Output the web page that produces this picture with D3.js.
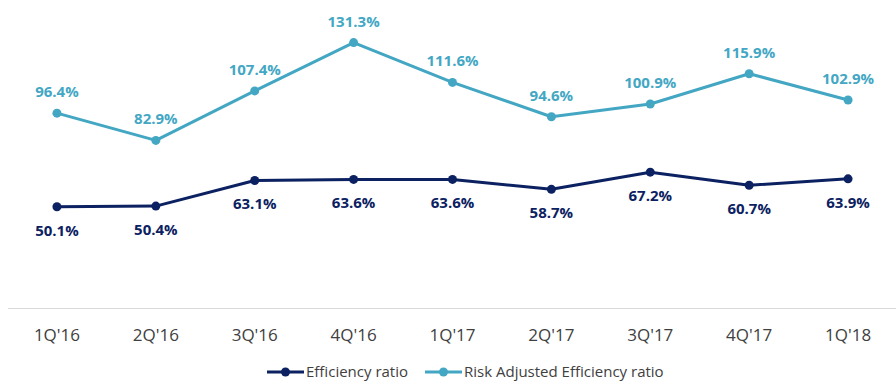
<!DOCTYPE html>
<html>
<head>
<meta charset="utf-8">
<script src="https://cdn.jsdelivr.net/npm/d3@7"></script>
<style>
  html, body { margin: 0; padding: 0; background: #fff; }
  svg { display: block; }
</style>
</head>
<body>
<svg id="chart" width="896" height="381"></svg>
<script>
// Quarterly efficiency figures (%)
const quarters = ["1Q'16", "2Q'16", "3Q'16", "4Q'16", "1Q'17", "2Q'17", "3Q'17", "4Q'17", "1Q'18"];
const efficiencyRatio = [50.1, 50.4, 63.1, 63.6, 63.6, 58.7, 67.2, 60.7, 63.9];
const riskAdjustedRatio = [96.4, 82.9, 107.4, 131.3, 111.6, 94.6, 100.9, 115.9, 102.9];
const seriesNames = ["Efficiency ratio", "Risk Adjusted Efficiency ratio"];

const DARK = "#0b2161";
const LIGHT = "#43a7c4";
const FONT = "'Open Sans', 'Segoe UI', sans-serif";

const svg = d3.select("#chart");

const x = d3.scaleBand().domain(quarters).range([7.5, 897.5]);
const y = d3.scaleLinear().domain([0, 140]).range([308, 25]);
const cx = d => x(d) + x.bandwidth() / 2;

// baseline axis
const axis = svg.append("g")
  .attr("transform", `translate(0,${y(0)})`)
  .call(d3.axisBottom(x).tickSize(0).tickPadding(21));
axis.select(".domain").attr("stroke", "#d9d9d9").attr("stroke-width", 1);
axis.selectAll("text")
  .attr("font-family", FONT)
  .attr("font-size", 17)
  .attr("fill", "#404040");

const series = [
  { name: seriesNames[1], values: riskAdjustedRatio, color: LIGHT, labelDy: -16 },
  { name: seriesNames[0], values: efficiencyRatio, color: DARK, labelDy: 29 }
];

const line = d3.line()
  .x((d, i) => cx(quarters[i]))
  .y(d => y(d));

series.forEach(s => {
  const g = svg.append("g");
  g.append("path")
    .attr("d", line(s.values))
    .attr("fill", "none")
    .attr("stroke", s.color)
    .attr("stroke-width", 3)
    .attr("stroke-linejoin", "round");
  g.selectAll("circle")
    .data(s.values)
    .join("circle")
    .attr("cx", (d, i) => cx(quarters[i]))
    .attr("cy", d => y(d))
    .attr("r", 4.5)
    .attr("fill", s.color);
  g.selectAll("text")
    .data(s.values)
    .join("text")
    .attr("x", (d, i) => cx(quarters[i]))
    .attr("y", d => y(d) + s.labelDy)
    .attr("text-anchor", "middle")
    .attr("font-family", FONT)
    .attr("font-weight", "bold")
    .attr("font-size", 15)
    .attr("fill", s.color)
    .text(d => d.toFixed(1) + "%");
});

// legend
const legendItems = [
  { name: seriesNames[0], color: DARK, x0: 267 },
  { name: seriesNames[1], color: LIGHT, x0: 425 }
];
const legend = svg.append("g").attr("transform", "translate(0,372)");
legendItems.forEach(item => {
  const g = legend.append("g").attr("transform", `translate(${item.x0},0)`);
  g.append("line")
    .attr("x1", 0).attr("x2", 37)
    .attr("y1", 0).attr("y2", 0)
    .attr("stroke", item.color)
    .attr("stroke-width", 3);
  g.append("circle")
    .attr("cx", 18.5).attr("cy", 0).attr("r", 4.5)
    .attr("fill", item.color);
  g.append("text")
    .attr("x", 39)
    .attr("y", 5)
    .attr("font-family", FONT)
    .attr("font-size", 15)
    .attr("fill", "#404040")
    .text(item.name);
});
</script>
</body>
</html>
